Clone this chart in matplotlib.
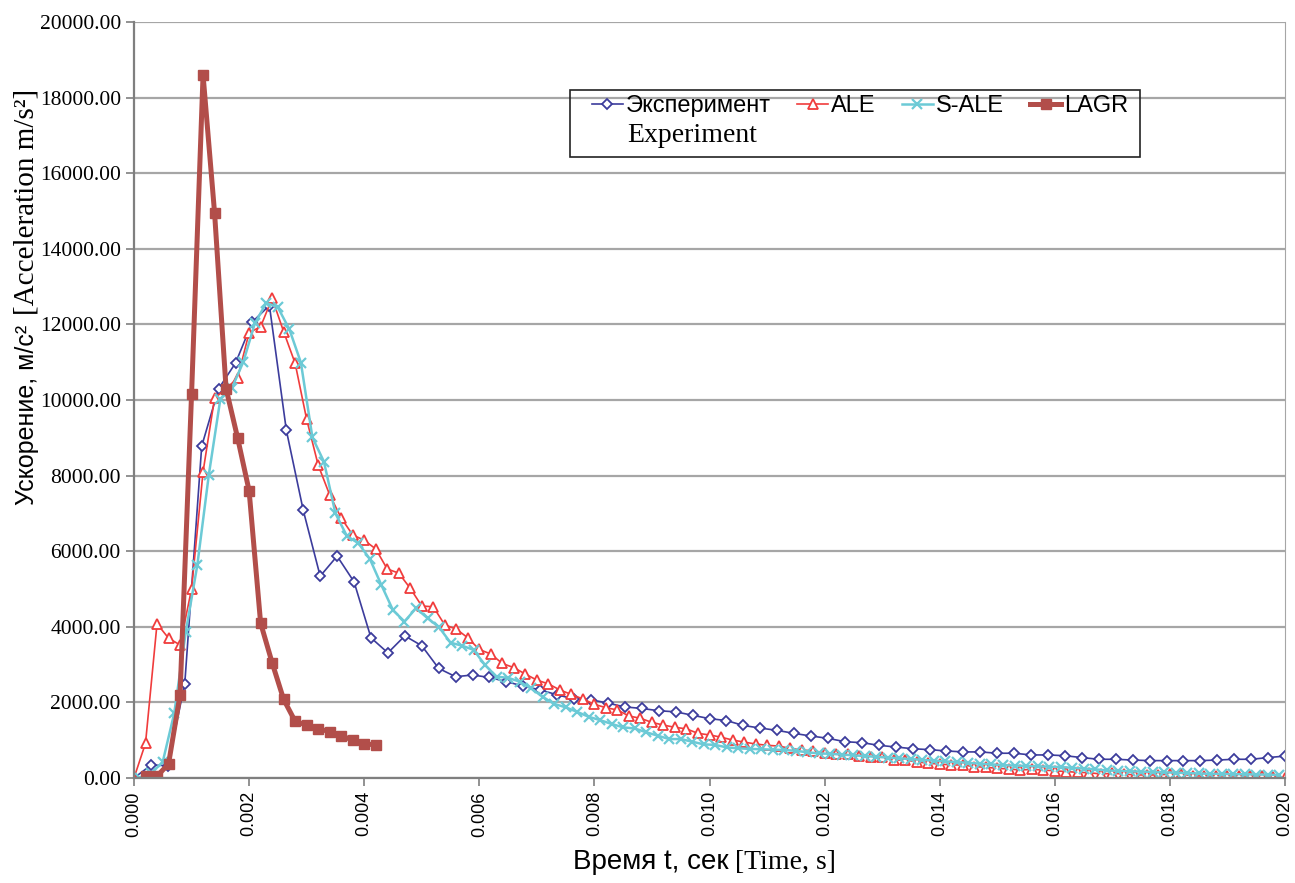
import matplotlib.pyplot as plt
import numpy as np
from matplotlib.patches import Rectangle
from matplotlib.ticker import FormatStrFormatter, MultipleLocator

# acceleration, m/s^2
exp_acc = [0, 340, 330, 2500, 8780, 10300, 10980, 12070, 12500, 9200,
           7080, 5340, 5870, 5190, 3710, 3310, 3760, 3500, 2900, 2680,
           2725, 2660, 2550, 2430, 2330, 2200, 2090, 2070, 1980, 1880,
           1840, 1780, 1750, 1660, 1570, 1520, 1390, 1320, 1260, 1180,
           1110, 1050, 960, 935, 865, 820, 775, 750, 715, 690,
           690, 655, 655, 610, 610, 590, 540, 495, 495, 475,
           460, 460, 460, 460, 475, 495, 495, 540, 580]

ale_acc = [0, 920, 4080, 3700, 3520, 5000, 8100, 10050, 10300, 10580,
           11780, 11940, 12690, 11810, 10970, 9490, 8280, 7490, 6880, 6430,
           6290, 6060, 5530, 5420, 5020, 4550, 4530, 4050, 3940, 3710,
           3400, 3280, 3030, 2920, 2750, 2590, 2490, 2330, 2210, 2090,
           1950, 1860, 1800, 1640, 1580, 1470, 1400, 1340, 1300, 1180,
           1140, 1080, 1005, 950, 900, 865, 845, 785, 740, 720,
           665, 635, 635, 590, 550, 550, 475, 475, 430, 390,
           370, 345, 345, 300, 285, 255, 240, 210, 230, 210,
           190, 170, 150, 140, 105, 125, 105, 80, 80, 80,
           105, 105, 55, 55, 55, 55, 55, 55, 55, 30, 0]

sale_acc = [0, 120, 430, 1720, 3870, 5630, 8020, 10020, 10310, 11010,
            12030, 12570, 12450, 11870, 10990, 9010, 8370, 7000, 6400, 6210,
            5790, 5100, 4440, 4140, 4490, 4230, 3990, 3580, 3500, 3390,
            2990, 2680, 2650, 2550, 2370, 2150, 1960, 1870, 1750, 1620,
            1530, 1430, 1340, 1310, 1210, 1120, 1030, 1030, 960, 890,
            875, 810, 785, 770, 760, 750, 740, 720, 680, 650,
            640, 620, 600, 580, 560, 540, 520, 500, 480, 460,
            440, 420, 400, 380, 360, 340, 330, 320, 310, 300,
            290, 270, 250, 230, 200, 190, 180, 170, 160, 150,
            140, 130, 120, 110, 110, 100, 100, 90, 90, 80]

lagr_acc = [50, 50, 370, 2200, 10150, 18600, 14950, 10300, 9000, 7600,
            4100, 3050, 2080, 1500, 1400, 1300, 1230, 1120, 1000, 900, 880]

# time grids, s
exp_t = np.linspace(0.0, 0.020, len(exp_acc))
ale_t = np.linspace(0.0, 0.020, len(ale_acc))
sale_t = np.linspace(0.0001, 0.0199, len(sale_acc))
lagr_t = np.linspace(0.0002, 0.0042, len(lagr_acc))

fig = plt.figure(figsize=(12.95, 8.83), dpi=100)
ax = fig.add_axes([134 / 1295, 1 - 778 / 883, 1151 / 1295, 756 / 883])

l1, = ax.plot(exp_t, exp_acc, color='#3c3c9c', lw=1.2, marker='D', ms=5.5,
              mfc='white', mec='#3c3c9c', mew=1.3)
l2, = ax.plot(ale_t, ale_acc, color='#f03c3c', lw=1.2, marker='^', ms=7,
              mfc='white', mec='#f03c3c', mew=1.3)
l3, = ax.plot(sale_t, sale_acc, color='#6ccad6', lw=1.8, marker='x', ms=7,
              mew=1.6)
l4, = ax.plot(lagr_t, lagr_acc, color='#b24e4a', lw=3.6, marker='s', ms=7.5,
              mfc='#b24e4a', mec='#b24e4a')

ax.set_xlim(0, 0.020)
ax.set_ylim(0, 20000)
ax.xaxis.set_major_locator(MultipleLocator(0.002))
ax.yaxis.set_major_locator(MultipleLocator(2000))
ax.xaxis.set_major_formatter(FormatStrFormatter('%.3f'))
ax.yaxis.set_major_formatter(FormatStrFormatter('%.2f'))

ax.grid(axis='y', color='#a6a6a6', lw=1.6)
ax.set_axisbelow(True)
for s in ['left', 'bottom']:
    ax.spines[s].set_color('#7f7f7f')
    ax.spines[s].set_linewidth(1.6)
ax.spines['right'].set_color('#a6a6a6')
ax.spines['top'].set_visible(False)

ax.tick_params(axis='both', direction='out', length=6, color='#7f7f7f', width=1.2)
for lab in ax.get_xticklabels():
    lab.set_rotation(90)
    lab.set_fontfamily('Liberation Sans')
    lab.set_fontsize(13)
for lab in ax.get_yticklabels():
    lab.set_fontfamily('Liberation Serif')
    lab.set_fontsize(15.5)

# axis titles: Russian in sans, English in serif
fig.text(27 / 1295, 1 - 505 / 883, 'Ускорение, м/с²', rotation=90,
         ha='center', va='bottom', family='Liberation Sans', fontsize=18)
fig.text(27 / 1295, 1 - 315 / 883, '[Acceleration m/s²]', rotation=90,
         ha='center', va='bottom', family='Liberation Serif', fontsize=21)
fig.text(729 / 1295, 1 - 862 / 883, 'Время t, сек', ha='right', va='center',
         family='Liberation Sans', fontsize=20)
fig.text(735 / 1295, 1 - 862 / 883, '[Time, s]', ha='left', va='center',
         family='Liberation Serif', fontsize=20)

leg = fig.legend([l1, l2, l3, l4], ['Эксперимент', 'ALE', 'S-ALE', 'LAGR'],
                 ncol=4, loc='center left',
                 bbox_to_anchor=(592 / 1295, 1 - 106 / 883),
                 frameon=False, borderpad=0, borderaxespad=0,
                 handlelength=1.3, handletextpad=0.15, columnspacing=1.1,
                 prop={'family': 'Liberation Sans', 'size': 17})
fig.text(627 / 1295, 1 - 136 / 883, 'Experiment', ha='left', va='center',
         family='Liberation Serif', fontsize=20)
fig.patches.append(Rectangle((570 / 1295, 1 - 157 / 883), 570 / 1295, 67 / 883,
                             transform=fig.transFigure, fill=False,
                             edgecolor='#222222', lw=1.2))

fig.savefig('out.png', dpi=100)
